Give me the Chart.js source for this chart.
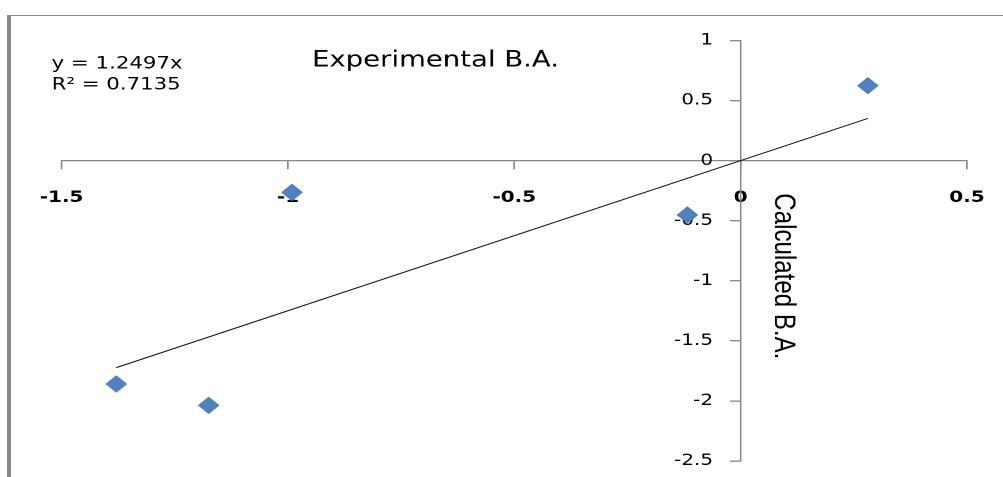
<!DOCTYPE html>
<html>
<head>
<meta charset="utf-8">
<script src="https://cdn.jsdelivr.net/npm/chart.js@4.4.0/dist/chart.umd.min.js"></script>
<style>
html,body{margin:0;padding:0;background:#fff;overflow:hidden;width:1003px;height:477px;}
#wrap{position:absolute;left:0;top:0;width:802px;height:477px;transform:scaleX(1.25062);transform-origin:0 0;}
#frame{position:absolute;left:7px;top:15px;width:1000px;height:470px;border-top:1px solid #878787;border-left:4px solid #878787;box-sizing:border-box;pointer-events:none;}
</style>
</head>
<body>
<div id="wrap"><canvas id="c" width="802" height="477"></canvas></div>
<div id="frame"></div>
<script>
// ---- data ----
const xValues = [-1.379, -1.175, -0.991, -0.1175, 0.281];
const yValues = [-1.859, -2.037, -0.264, -0.452, 0.624];
const trendX = [-1.379, 0.281];
const trendY = [-1.723, 0.351];
const xTicks = [-1.5, -1, -0.5, 0, 0.5];
const yTicks = [1, 0.5, 0, -0.5, -1, -1.5, -2, -2.5];
const equationLines = ['y = 1.2497x', 'R\u00B2 = 0.7135'];
const chartTitle = 'Experimental B.A.';
const yAxisTitle = 'Calculated B.A.';

const axisGrey = '#878787';

function pickTitleFont() {
  const c = document.createElement('canvas').getContext('2d');
  c.font = '100px "Liberation Sans Narrow", "Liberation Sans", sans-serif';
  const w = c.measureText(yAxisTitle).width;
  const size = 100 * 166 / w;
  return size.toFixed(1) + 'px "Liberation Sans Narrow", "Liberation Sans", sans-serif';
}
const yTitleFont = pickTitleFont();

// shift tick labels of the crossing axes away from the axis lines
const labelShiftPlugin = {
  id: 'labelShift',
  beforeDraw(chart) {
    const shifts = {x: [0, 19.5], y: [-22, 0]};
    for (const id of ['x', 'y']) {
      const s = chart.scales[id];
      const items = s.getLabelItems(chart.chartArea);
      if (items._shifted) continue;
      items.forEach(it => {
        it.options.translation[0] += shifts[id][0];
        it.options.translation[1] += shifts[id][1];
      });
      items._shifted = true;
    }
  }
};

const textPlugin = {
  id: 'texts',
  afterDraw(chart) {
    const ctx = chart.ctx;
    ctx.save();
    ctx.fillStyle = '#000';
    ctx.textAlign = 'left';
    ctx.textBaseline = 'alphabetic';
    ctx.font = '17px "DejaVu Sans"';
    ctx.fillText(equationLines[0], 41.3, 68.5);
    ctx.fillText(equationLines[1], 41.3, 89.3);
    ctx.font = '22px "DejaVu Sans"';
    ctx.fillText(chartTitle, 249.5, 66.7);
    ctx.translate(619.5, 193.3);
    ctx.rotate(Math.PI / 2);
    ctx.font = yTitleFont;
    ctx.fillText(yAxisTitle, 0, 0);
    ctx.restore();
  }
};

new Chart(document.getElementById('c'), {
  type: 'scatter',
  data: {
    datasets: [
      {
        data: xValues.map((x, i) => ({x: x, y: yValues[i]})),
        pointStyle: 'rectRot',
        pointRadius: 8,
        pointHoverRadius: 8,
        backgroundColor: '#4F81BD',
        borderColor: '#4F81BD',
        borderWidth: 1,
        order: 0
      },
      {
        type: 'line',
        data: trendX.map((x, i) => ({x: x, y: trendY[i]})),
        showLine: true,
        pointRadius: 0,
        borderColor: '#111',
        borderWidth: 1,
        fill: false,
        order: 1
      }
    ]
  },
  options: {
    responsive: false,
    devicePixelRatio: 2,
    animation: false,
    layout: {padding: {left: 49.2, right: 28.8, top: 40.5, bottom: 16}},
    plugins: {legend: {display: false}, tooltip: {enabled: false}, title: {display: false}},
    scales: {
      x: {
        type: 'linear',
        min: -1.5, max: 0.5,
        position: {y: 0},
        afterBuildTicks: s => { s.ticks = xTicks.map(v => ({value: v})); },
        grid: {drawOnChartArea: false, drawTicks: true, tickLength: 8, color: axisGrey, lineWidth: 1.3},
        border: {display: true, color: axisGrey, width: 1.3},
        ticks: {font: {family: 'DejaVu Sans', size: 16, weight: 'bold'}, color: '#000', padding: 0, maxRotation: 0, autoSkip: false, callback: v => String(v)}
      },
      y: {
        type: 'linear',
        min: -2.5, max: 1,
        position: {x: 0},
        afterBuildTicks: s => { s.ticks = yTicks.map(v => ({value: v})); },
        grid: {drawOnChartArea: false, drawTicks: true, tickLength: 8, color: axisGrey, lineWidth: 1.3},
        border: {display: true, color: axisGrey, width: 1.3},
        ticks: {font: {family: 'DejaVu Sans', size: 16}, color: '#000', padding: 0, autoSkip: false, callback: v => String(v)}
      }
    }
  },
  plugins: [labelShiftPlugin, textPlugin]
});
</script>
</body>
</html>
